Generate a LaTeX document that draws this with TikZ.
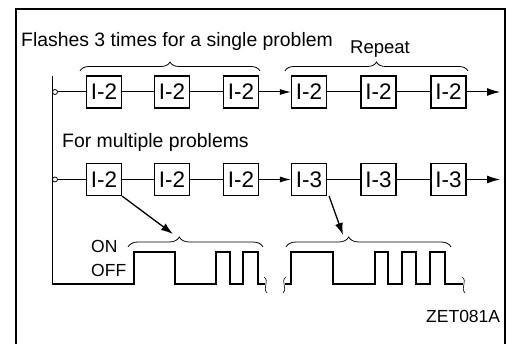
\documentclass[tikz,border=0pt]{standalone}
\usepackage{fontspec}
\setmainfont{Liberation Sans}
\usetikzlibrary{arrows.meta,decorations.pathreplacing}
\begin{document}
\begin{tikzpicture}[x=1pt,y=-1pt,
  codebox/.style={draw,line width=1.2pt,minimum width=35pt,minimum height=32pt,inner sep=0pt,font=\fontsize{22.5}{22.5}\selectfont},
  conn/.style={line width=1pt},
  wave/.style={line width=2.3pt,line join=miter},
  brc/.style={decorate,decoration={brace,amplitude=9pt},line width=0.8pt},
  wbrc/.style={decorate,decoration={brace,amplitude=10pt,aspect=0.38},line width=0.8pt},
  lbl/.style={anchor=base west,inner sep=0pt,font=\fontsize{19.4}{19.4}\selectfont},
  port/.style={circle,draw,fill=white,line width=0.8pt,minimum size=5pt,inner sep=0pt},
  brk/.style={line width=0.6pt},
  midtip/.style={-{Latex[length=11pt,width=6pt]}},
  endtip/.style={-{Latex[length=13pt,width=8pt]}},
  diagtip/.style={-{Latex[length=12pt,width=8pt]},line width=1.3pt},
]
\useasboundingbox (0,0) rectangle (507,344);
% frame
\draw[line width=1.3pt] (16,344) -- (16,9) -- (505,9) -- (505,344);

% labels
\node[lbl] (t1) at (21,47) {Flashes 3 times for a single problem};
\node[lbl,font=\fontsize{18.5}{18.5}\selectfont] (t2) at (350,54) {Repeat};
\node[lbl] (t3) at (62,148) {For multiple problems};
\node[lbl,font=\fontsize{17.5}{17.5}\selectfont] (on) at (91,253) {ON};
\node[lbl,font=\fontsize{17.5}{17.5}\selectfont] (off) at (91,277) {OFF};
\node[lbl,font=\fontsize{17.5}{17.5}\selectfont] (id) at (426,323) {ZET081A};

% left rail
\coordinate (vtop) at (52,76);
\coordinate (vbot) at (52,284);
\draw[line width=0.7pt] (vtop) -- (vbot);
\node[port] (p1) at (55,92) {};
\node[port] (p2) at (55,179.5) {};

% row 1
\node[codebox] (a1) at (104,92) {I-2};
\node[codebox] (a2) at (172,92) {I-2};
\node[codebox] (a3) at (241,92) {I-2};
\node[codebox] (a4) at (309,92) {I-2};
\node[codebox] (a5) at (378.5,92) {I-2};
\node[codebox] (a6) at (448.5,92) {I-2};
\coordinate (aend) at (500,92);
\draw[conn] (p1) -- (a1);
\draw[conn] (a1) -- (a2);
\draw[conn] (a2) -- (a3);
\draw[conn,midtip] (a3) -- (a4);
\draw[conn] (a4) -- (a5);
\draw[conn] (a5) -- (a6);
\draw[conn,endtip] (a6) -- (aend);

% row 2
\node[codebox] (b1) at (104,179.5) {I-2};
\node[codebox] (b2) at (172,179.5) {I-2};
\node[codebox] (b3) at (241,179.5) {I-2};
\node[codebox] (b4) at (309,179.5) {I-3};
\node[codebox] (b5) at (378.5,179.5) {I-3};
\node[codebox] (b6) at (448.5,179.5) {I-3};
\coordinate (bend) at (500,179.5);
\draw[conn] (p2) -- (b1);
\draw[conn] (b1) -- (b2);
\draw[conn] (b2) -- (b3);
\draw[conn,midtip] (b3) -- (b4);
\draw[conn] (b4) -- (b5);
\draw[conn] (b5) -- (b6);
\draw[conn,endtip] (b6) -- (bend);

% braces row 1
\coordinate (r1a) at (80,71);
\coordinate (r1b) at (260,71);
\coordinate (r1c) at (285,71);
\coordinate (r1d) at (468,71);
\draw[brc] (r1a) -- (r1b);
\draw[brc] (r1c) -- (r1d);

% waveform braces
\coordinate (w1a) at (128,247);
\coordinate (w1b) at (263,247);
\coordinate (w2a) at (286,247);
\coordinate (w2b) at (451,247);
\draw[wbrc] (w1a) -- (w1b);
\draw[wbrc] (w2a) -- (w2b);

% diagonal arrows
\coordinate (d1) at (173,234);
\coordinate (d2) at (343,235);
\draw[diagtip] (b1.south east) -- (d1);
\draw[diagtip] ([xshift=2pt]b4.south east) -- (d2);

% waveform 1
\draw[wave] (vbot) -- (134,284) -- (134,252) -- (175,252) -- (175,284)
  -- (216,284) -- (216,252) -- (230,252) -- (230,284)
  -- (243,284) -- (243,252) -- (258,252) -- (258,284) -- (265,284);
\draw[brk] (264,277) .. controls (270,281) and (262,288) .. (267,293);
% waveform 2
\draw[brk] (286,277) .. controls (280,281) and (288,288) .. (283,293);
\draw[wave] (285,284) -- (291,284) -- (291,252) -- (333,252) -- (333,284)
  -- (375,284) -- (375,252) -- (388,252) -- (388,284)
  -- (402,284) -- (402,252) -- (416,252) -- (416,284)
  -- (430,284) -- (430,252) -- (445,252) -- (445,284) -- (463,284);
\draw[brk] (462,277) .. controls (468,281) and (460,288) .. (465,293);
\end{tikzpicture}
\end{document}
